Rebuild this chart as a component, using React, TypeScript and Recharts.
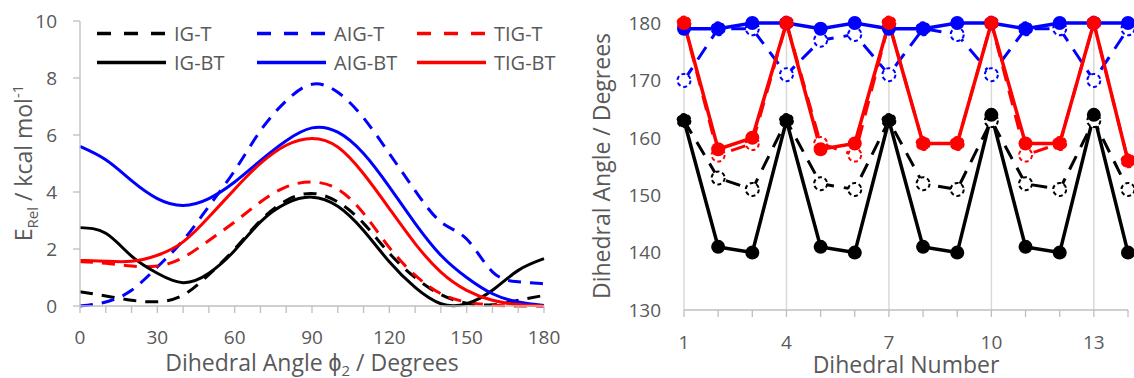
import { LineChart, Line, XAxis, YAxis, CartesianGrid, Legend, Label } from 'recharts';

const FONT = "'Open Sans', sans-serif";
const GREY = '#595959';
const AXIS = '#bfbfbf';

// Left panel: relative energy vs dihedral angle
const ANGLES = [0, 10, 20, 30, 40, 50, 60, 70, 80, 90, 100, 110, 120, 130, 140, 150, 160, 170, 180];
const IG_T = [0.5, 0.35, 0.2, 0.15, 0.38, 1.1, 2.0, 3.0, 3.7, 3.95, 3.65, 2.9, 1.85, 1.0, 0.4, 0.1, 0.04, 0.2, 0.37];
const AIG_T = [0.0, 0.14, 0.55, 1.37, 2.3, 3.5, 4.75, 6.15, 7.2, 7.78, 7.5, 6.6, 5.35, 4.05, 2.95, 2.35, 1.2, 0.85, 0.78];
const TIG_T = [1.55, 1.5, 1.4, 1.4, 1.7, 2.3, 2.95, 3.65, 4.18, 4.35, 4.1, 3.25, 2.05, 1.08, 0.43, 0.14, 0.03, 0.0, 0.0];
const IG_BT = [2.75, 2.55, 1.75, 1.15, 0.82, 1.15, 1.95, 2.95, 3.6, 3.82, 3.5, 2.65, 1.55, 0.65, 0.08, 0.08, 0.55, 1.25, 1.66];
const AIG_BT = [5.6, 5.13, 4.4, 3.77, 3.53, 3.77, 4.35, 5.1, 5.8, 6.25, 6.1, 5.35, 4.18, 2.9, 1.78, 1.0, 0.43, 0.14, 0.02];
const TIG_BT = [1.6, 1.57, 1.57, 1.78, 2.25, 3.12, 4.1, 5.0, 5.64, 5.88, 5.58, 4.64, 3.42, 2.19, 1.19, 0.55, 0.2, 0.05, 0.0];
const LEFT_Y_TICKS = [0, 2, 4, 6, 8, 10];

// Right panel: dihedral angle per dihedral number
const DIHEDRALS = [1, 2, 3, 4, 5, 6, 7, 8, 9, 10, 11, 12, 13, 14];
const R_IG_T = [163, 153, 151, 163, 152, 151, 163, 152, 151, 163, 152, 151, 163, 151];
const R_AIG_T = [170, 179, 179, 171, 177, 178, 171, 179, 178, 171, 179, 179, 170, 179];
const R_TIG_T = [180, 157, 159, 180, 159, 157, 180, 159, 159, 180, 157, 159, 180, 156];
const R_IG_BT = [163, 141, 140, 163, 141, 140, 163, 141, 140, 164, 141, 140, 164, 140];
const R_AIG_BT = [179, 179, 180, 180, 179, 180, 179, 179, 180, 180, 179, 180, 180, 180];
const R_TIG_BT = [180, 158, 160, 180, 158, 159, 180, 159, 159, 180, 159, 159, 180, 156];
const RIGHT_Y_TICKS = [130, 140, 150, 160, 170, 180];
const RIGHT_X_LABELS = [1, 4, 7, 10, 13];

const SERIES = [
  { key: 'igT', name: 'IG-T', color: '#000000', dashed: true },
  { key: 'aigT', name: 'AIG-T', color: '#0000ff', dashed: true },
  { key: 'tigT', name: 'TIG-T', color: '#ff0000', dashed: true },
  { key: 'igBT', name: 'IG-BT', color: '#000000', dashed: false },
  { key: 'aigBT', name: 'AIG-BT', color: '#0000ff', dashed: false },
  { key: 'tigBT', name: 'TIG-BT', color: '#ff0000', dashed: false },
];

const leftData = ANGLES.map((a, i) => ({
  angle: a,
  igT: IG_T[i],
  aigT: AIG_T[i],
  tigT: TIG_T[i],
  igBT: IG_BT[i],
  aigBT: AIG_BT[i],
  tigBT: TIG_BT[i],
}));

const rightData = DIHEDRALS.map((d, i) => ({
  n: d,
  igT: R_IG_T[i],
  aigT: R_AIG_T[i],
  tigT: R_TIG_T[i],
  igBT: R_IG_BT[i],
  aigBT: R_AIG_BT[i],
  tigBT: R_TIG_BT[i],
}));

const tickStyle = { fill: GREY, fontSize: 19, fontFamily: FONT };

// legend drawn as 2 rows x 3 columns inside the left plot
function LeftLegend() {
  return (
    <svg width={470} height={70} style={{ display: 'block' }}>
      {SERIES.map((s, i) => {
        const col = i % 3;
        const row = Math.floor(i / 3);
        const x1 = 7 + col * 160;
        const y = 18.5 + row * 29;
        return (
          <g key={s.key}>
            <line
              x1={x1}
              x2={x1 + 69}
              y1={y}
              y2={y}
              stroke={s.color}
              strokeWidth={3.4}
              strokeDasharray={s.dashed ? '14 13' : undefined}
            />
            <text x={x1 + 77} y={y + 7} fill={GREY} fontSize={20} fontFamily={FONT}>
              {s.name}
            </text>
          </g>
        );
      })}
    </svg>
  );
}

function HollowDot(color: string) {
  return (p: any) => (
    <circle
      key={`h-${color}-${p.index}`}
      cx={p.cx}
      cy={p.cy}
      r={6.5}
      fill="#ffffff"
      stroke={color}
      strokeWidth={2}
      strokeDasharray="4 2.8"
    />
  );
}

function FilledDot(color: string) {
  return (p: any) => <circle key={`f-${color}-${p.index}`} cx={p.cx} cy={p.cy} r={7} fill={color} />;
}

export default function App() {
  return (
    <div style={{ position: 'absolute', left: 0, top: 0, width: 1134, height: 378, background: '#fff' }}>
      <div style={{ position: 'absolute', left: 0, top: 0 }}>
        <LineChart width={560} height={378} data={leftData} margin={{ top: 21, right: 16, bottom: 0, left: 0 }}>
          <XAxis
            dataKey="angle"
            type="number"
            domain={[0, 180]}
            ticks={ANGLES}
            interval={0}
            tickFormatter={(v: number) => (v % 30 === 0 ? String(v) : '')}
            height={72}
            tickSize={7}
            tickMargin={18}
            tick={tickStyle}
            axisLine={{ stroke: AXIS, strokeWidth: 1.3 }}
            tickLine={{ stroke: AXIS, strokeWidth: 1.3 }}
          >
            <Label
              content={() => (
                <text x={312} y={371} textAnchor="middle" fill={GREY} fontSize={23} fontFamily={FONT}>
                  Dihedral Angle ϕ
                  <tspan dy={5} fontSize={15}>2</tspan>
                  <tspan dy={-5}> / Degrees</tspan>
                </text>
              )}
            />
          </XAxis>
          <YAxis
            type="number"
            domain={[0, 10]}
            ticks={LEFT_Y_TICKS}
            interval={0}
            width={80}
            tickSize={7}
            tickMargin={16}
            tick={tickStyle}
            axisLine={{ stroke: AXIS, strokeWidth: 1.3 }}
            tickLine={{ stroke: AXIS, strokeWidth: 1.3 }}
          >
            <Label
              content={() => (
                <text
                  x={32}
                  y={163}
                  transform="rotate(-90, 32, 163)"
                  textAnchor="middle"
                  fill={GREY}
                  fontSize={23}
                  fontFamily={FONT}
                >
                  E
                  <tspan dy={6} fontSize={15}>Rel</tspan>
                  <tspan dy={-6}> / kcal mol</tspan>
                  <tspan dy={-9} fontSize={15}>-1</tspan>
                </text>
              )}
            />
          </YAxis>
          <Legend verticalAlign="middle" align="center" content={() => <LeftLegend />} wrapperStyle={{ top: 15, left: 90, width: 470 }} />
          {SERIES.map((s) => (
            <Line
              key={s.key}
              type="natural"
              dataKey={s.key}
              name={s.name}
              stroke={s.color}
              strokeWidth={3}
              strokeDasharray={s.dashed ? '13 9' : undefined}
              dot={false}
              activeDot={false}
              isAnimationActive={false}
            />
          ))}
        </LineChart>
      </div>

      <div style={{ position: 'absolute', left: 580, top: 0 }}>
        <LineChart width={554} height={378} data={rightData} margin={{ top: 23, right: 6, bottom: 0, left: 0 }}>
          <CartesianGrid horizontal={false} verticalValues={RIGHT_X_LABELS} stroke="#d9d9d9" strokeWidth={1.5} />
          <XAxis
            dataKey="n"
            type="number"
            domain={[1, 14]}
            ticks={DIHEDRALS}
            interval={0}
            tickFormatter={(v: number) => (RIGHT_X_LABELS.includes(v) ? String(v) : '')}
            height={68}
            tickSize={7}
            tickMargin={19}
            tick={tickStyle}
            axisLine={{ stroke: AXIS, strokeWidth: 1.3 }}
            tickLine={{ stroke: AXIS, strokeWidth: 1.3 }}
          >
            <Label
              content={() => (
                <text x={326} y={373} textAnchor="middle" fill={GREY} fontSize={23} fontFamily={FONT}>
                  Dihedral Number
                </text>
              )}
            />
          </XAxis>
          <YAxis
            type="number"
            domain={[130, 180]}
            ticks={RIGHT_Y_TICKS}
            interval={0}
            width={104}
            tickSize={0}
            tickMargin={23}
            tick={tickStyle}
            axisLine={false}
            tickLine={false}
          >
            <Label
              content={() => (
                <text
                  x={30}
                  y={166}
                  transform="rotate(-90, 30, 166)"
                  textAnchor="middle"
                  fill={GREY}
                  fontSize={23}
                  fontFamily={FONT}
                >
                  Dihedral Angle / Degrees
                </text>
              )}
            />
          </YAxis>
          {SERIES.map((s) => (
            <Line
              key={s.key}
              type="linear"
              dataKey={s.key}
              name={s.name}
              stroke={s.color}
              strokeWidth={s.dashed ? 3 : 3.5}
              strokeDasharray={s.dashed ? '15 10' : undefined}
              dot={s.dashed ? HollowDot(s.color) : FilledDot(s.color)}
              activeDot={false}
              isAnimationActive={false}
            />
          ))}
        </LineChart>
      </div>
    </div>
  );
}
